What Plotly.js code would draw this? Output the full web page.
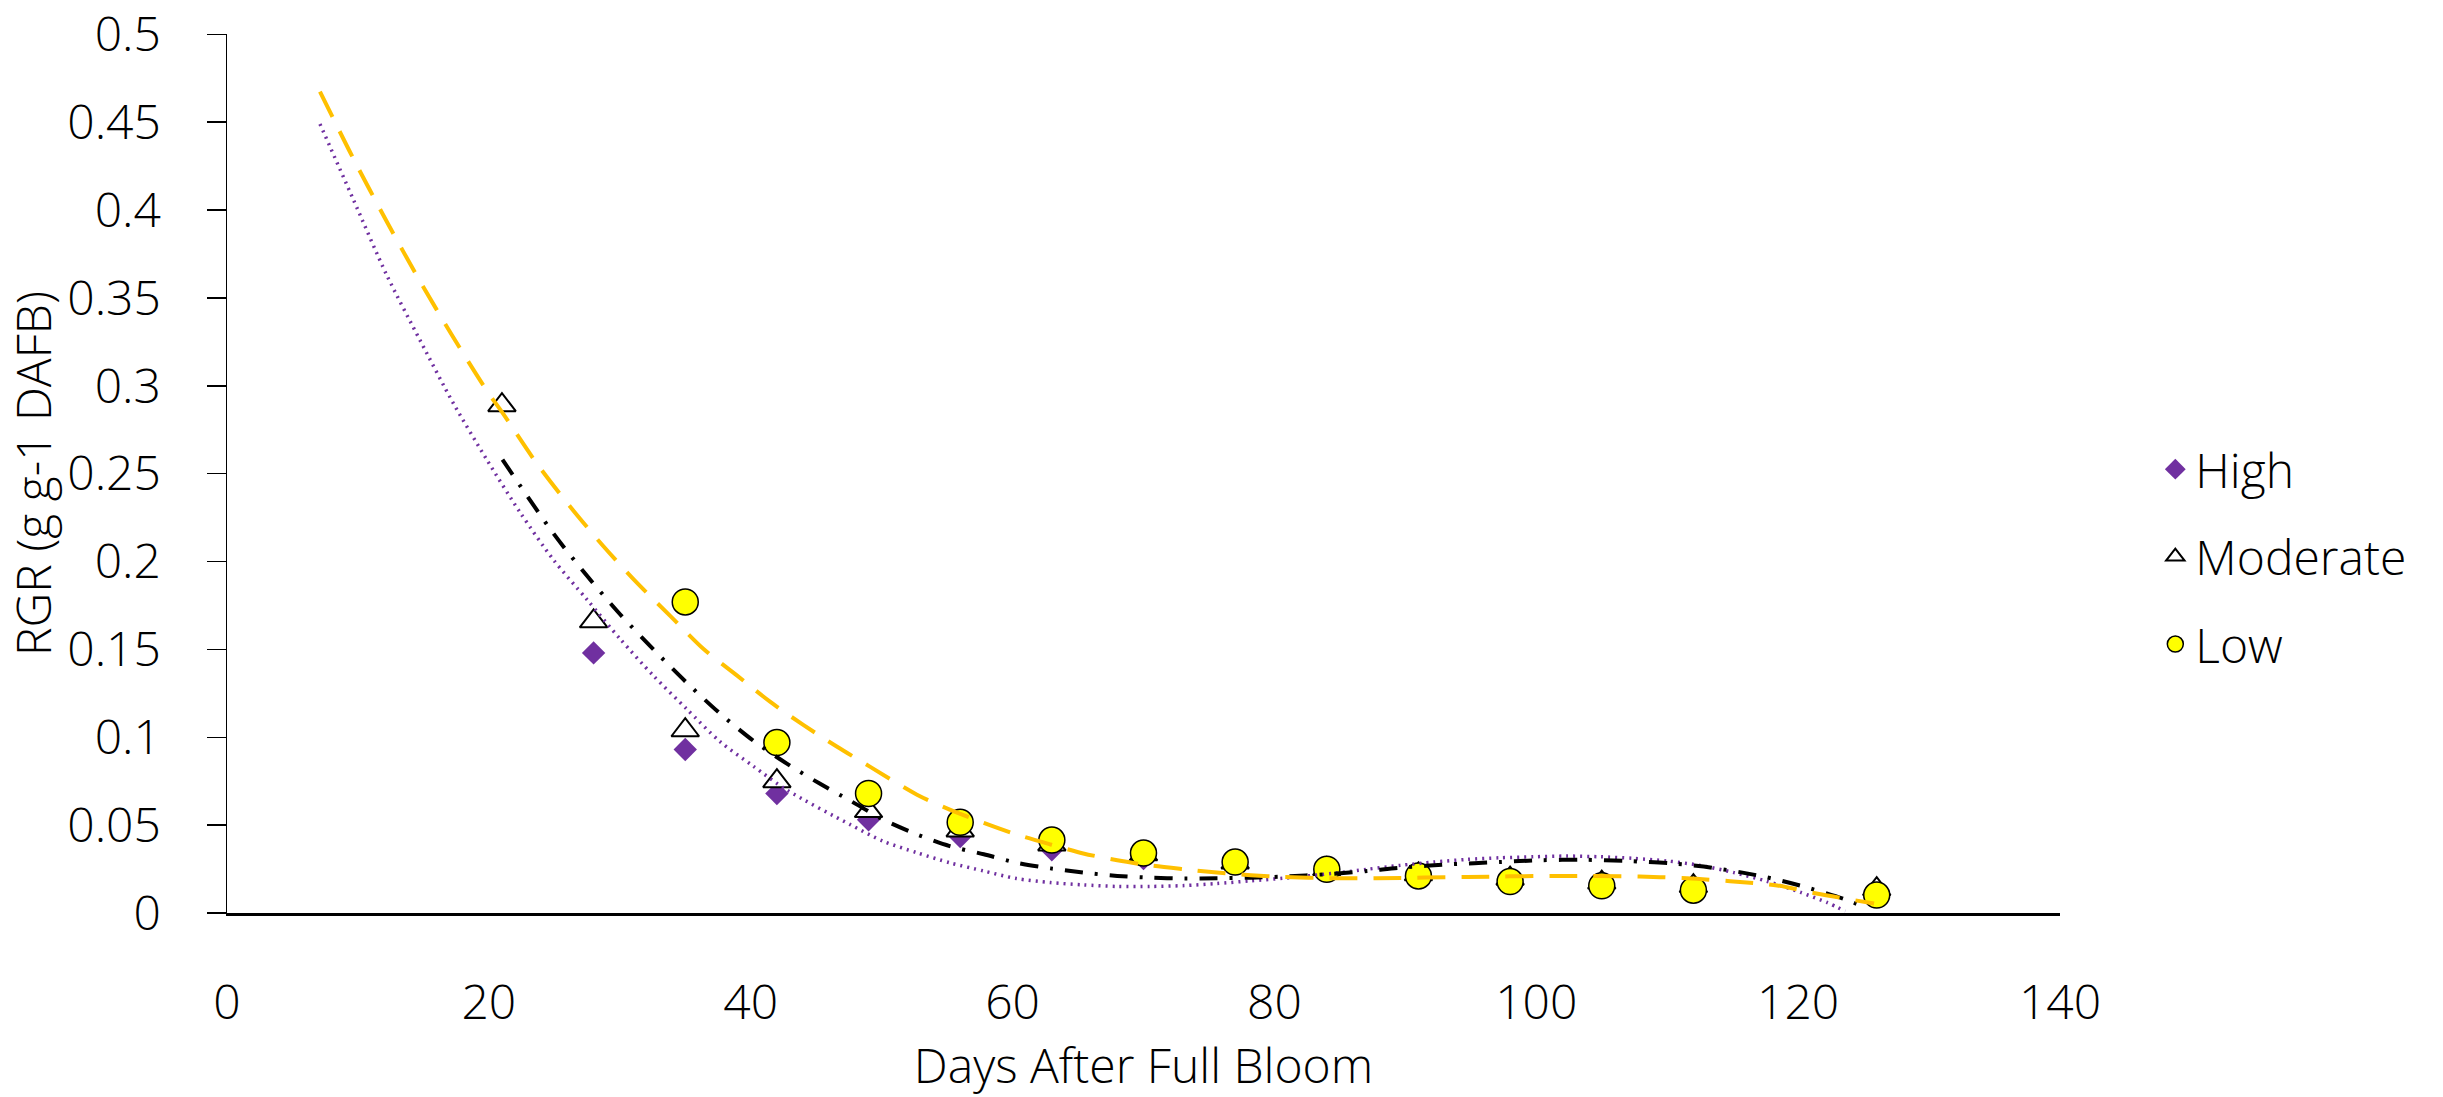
<!DOCTYPE html>
<html>
<head>
<meta charset="utf-8">
<script src="https://cdn.plot.ly/plotly-3.0.1.min.js"></script>
<style>html,body{margin:0;padding:0;background:#fff;}#chart{width:2443px;height:1097px;}</style>
</head>
<body>
<div id="chart"></div>
<script>
// ---- data ----
const seriesNames = ["High", "Moderate", "Low"];

const highDays = [28, 35, 42, 49, 56, 63, 70, 77, 84, 91, 98, 105, 112, 126];
const highRGR  = [0.148, 0.093, 0.068, 0.053, 0.0435, 0.036, 0.031, 0.028, 0.024, 0.021, 0.019, 0.017, 0.015, 0.012];

const modDays = [21, 28, 35, 42, 49, 56, 63, 70, 77, 84, 91, 98, 105, 112, 126];
const modRGR  = [0.289, 0.166, 0.104, 0.075, 0.058, 0.047, 0.039, 0.0334, 0.0288, 0.025, 0.022, 0.0195, 0.0173, 0.0153, 0.0136];

const lowDays = [35, 42, 49, 56, 63, 70, 77, 84, 91, 98, 105, 112, 126];
const lowRGR  = [0.177, 0.097, 0.068, 0.0516, 0.0415, 0.0341, 0.029, 0.0249, 0.0211, 0.0179, 0.0155, 0.013, 0.0102];

// trend lines
const highFitX = [7.1, 9.65, 12.2, 14.74, 17.29, 19.84, 22.38, 24.93, 27.48, 30.02, 32.57, 35.12, 37.66, 40.21, 42.76, 47.6, 50.1, 52.7, 55.2, 57.8, 60.3, 62.9, 65.4, 68.0, 70.5, 73.1, 75.6, 78.2, 80.7, 84.5, 87.1, 89.6, 92.2, 94.7, 97.2, 99.8, 102.3, 104.9, 107.4, 110.0, 112.5, 115.1, 117.6, 120.2, 122.2, 123.6];
const highFitY = [0.449, 0.406, 0.363, 0.326, 0.290, 0.258, 0.228, 0.201, 0.1785, 0.156, 0.135, 0.116, 0.0975, 0.0835, 0.070, 0.0503, 0.0409, 0.0343, 0.0286, 0.0239, 0.0196, 0.0173, 0.016, 0.0151, 0.0151, 0.0156, 0.0168, 0.0183, 0.0198, 0.0226, 0.0249, 0.0271, 0.029, 0.0305, 0.0314, 0.032, 0.0324, 0.032, 0.0311, 0.0296, 0.0271, 0.0230, 0.0181, 0.0117, 0.006, 0.001];

const modFitX = [21.04, 24.93, 27.48, 30.02, 32.57, 35.12, 37.66, 40.21, 42.76, 45.3, 47.7, 50.1, 52.7, 55.2, 57.8, 60.3, 62.9, 65.4, 68.0, 70.5, 73.1, 75.6, 78.2, 80.7, 84.0, 87.1, 89.6, 93.4, 97.2, 100.3, 103.6, 106.9, 110.2, 113.5, 117.1, 120.2, 123.5, 125.1];
const modFitY = [0.258, 0.216, 0.192, 0.170, 0.150, 0.131, 0.1135, 0.098, 0.085, 0.0735, 0.0635, 0.0532, 0.0447, 0.0381, 0.0334, 0.0286, 0.0254, 0.023, 0.0211, 0.0201, 0.0196, 0.0198, 0.0201, 0.0207, 0.0221, 0.0239, 0.0258, 0.0277, 0.029, 0.030, 0.0303, 0.0296, 0.0283, 0.0257, 0.0211, 0.0155, 0.008, 0.0032];

const lowFitX = [7.1, 9.65, 12.2, 14.74, 17.29, 19.84, 21.1, 23.66, 26.2, 28.75, 31.3, 33.85, 36.4, 38.94, 41.5, 44.04, 46.6, 49.1, 52.7, 55.2, 57.8, 60.3, 62.9, 65.4, 68.0, 70.5, 73.1, 75.6, 78.2, 80.7, 84.3, 87.8, 94.7, 101.3, 107.9, 111.5, 114.8, 118.4, 121.4, 125.8];
const lowFitY = [0.4674, 0.4293, 0.3935, 0.3595, 0.3275, 0.2973, 0.284, 0.2558, 0.2313, 0.2087, 0.188, 0.1691, 0.1502, 0.1352, 0.1201, 0.1069, 0.0946, 0.0833, 0.0673, 0.0588, 0.0513, 0.0447, 0.039, 0.0339, 0.030, 0.0271, 0.0249, 0.023, 0.0215, 0.0205, 0.0198, 0.0198, 0.0205, 0.0211, 0.0207, 0.0198, 0.0181, 0.0157, 0.0111, 0.0054];

const xTickVals = [0, 20, 40, 60, 80, 100, 120, 140];
const yTickVals = [0, 0.05, 0.1, 0.15, 0.2, 0.25, 0.3, 0.35, 0.4, 0.45, 0.5];
const yTickText = ["0", "0.05", "0.1", "0.15", "0.2", "0.25", "0.3", "0.35", "0.4", "0.45", "0.5"];

// ---- styles ----
const FONT = "'Open Sans', 'Noto Sans', sans-serif";
const purple = "#7030A0", gold = "#FFC000", yellow = "#FFFF00";

const traces = [
  {x: highDays, y: highRGR, name: seriesNames[0], type: "scatter", mode: "markers", legendgroup: "a",
   marker: {symbol: "diamond", size: 18, color: purple, line: {width: 0}}},
  {x: modDays, y: modRGR, name: seriesNames[1], type: "scatter", mode: "markers", legendgroup: "b",
   marker: {symbol: "triangle-up", size: 24, color: "#ffffff", line: {width: 2, color: "#000000"}}},
  {x: lowDays, y: lowRGR, name: seriesNames[2], type: "scatter", mode: "markers", legendgroup: "c",
   marker: {symbol: "circle", size: 26, color: yellow, line: {width: 1.5, color: "#000000"}}},
  {x: highFitX, y: highFitY, type: "scatter", mode: "lines", showlegend: false, hoverinfo: "skip",
   line: {color: purple, width: 3.5, dash: "2px,5px", shape: "spline", smoothing: 0.8}},
  {x: modFitX, y: modFitY, type: "scatter", mode: "lines", showlegend: false, hoverinfo: "skip",
   line: {color: "#000000", width: 4, dash: "18px,12px,3px,12px", shape: "spline", smoothing: 0.8}},
  {x: lowFitX, y: lowFitY, type: "scatter", mode: "lines", showlegend: false, hoverinfo: "skip",
   line: {color: gold, width: 4, dash: "28px,16px", shape: "spline", smoothing: 0.8}}
];

const layout = {
  width: 2443, height: 1097,
  margin: {l: 227, r: 383, t: 34, b: 184, pad: 0},
  paper_bgcolor: "#ffffff", plot_bgcolor: "#ffffff",
  font: {family: FONT, size: 48, color: "#000000", weight: 300},
  showlegend: true,
  legend: {x: 1.052, xanchor: "left", y: 0.405, yanchor: "middle",
           font: {family: FONT, size: 48, color: "#000000", weight: 300},
           tracegroupgap: 22, bgcolor: "rgba(0,0,0,0)", borderwidth: 0},
  xaxis: {
    range: [0, 140], tickvals: xTickVals, ticks: "", showgrid: false, zeroline: false,
    showline: true, linecolor: "#000000", linewidth: 2.5,
    ticklabelstandoff: 46,
    tickfont: {family: FONT, size: 48, color: "#000000", weight: 300},
    title: {text: "Days After Full Bloom", standoff: 20, font: {family: FONT, size: 48, color: "#000000", weight: 300}}
  },
  yaxis: {
    range: [0, 0.5002], tickvals: yTickVals, ticktext: yTickText, ticks: "outside", ticklen: 19, tickwidth: 1.5, tickcolor: "#000000",
    showgrid: false, zeroline: false, showline: true, linecolor: "#000000", linewidth: 1.5,
    ticklabelstandoff: 36, ticklabeloverflow: "allow",
    tickfont: {family: FONT, size: 48, color: "#000000", weight: 300},
    title: {text: "RGR (g g-1 DAFB)", standoff: 10, font: {family: FONT, size: 48, color: "#000000", weight: 300}}
  }
};

Plotly.newPlot("chart", traces, layout, {staticPlot: true, displayModeBar: false});
</script>
</body>
</html>
